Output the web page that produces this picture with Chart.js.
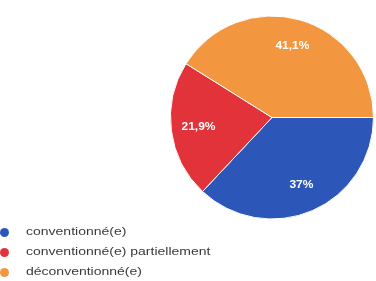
<!DOCTYPE html>
<html>
<head>
<meta charset="utf-8">
<script src="https://cdn.jsdelivr.net/npm/chart.js@4"></script>
<style>
  html, body { margin: 0; padding: 0; background: #fff; }
  #wrap { position: relative; width: 376px; height: 281px; }
  #legend { position: absolute; left: 0; top: 223px; font-family: "Liberation Sans", Arial, sans-serif;
    font-size: 10px; color: #3a3a3a; }
  #legend div { position: relative; height: 20px; line-height: 18px; white-space: nowrap; }
  #legend .dot { position: absolute; left: 0; top: 5px; width: 9px; height: 9px; border-radius: 50%; }
  #legend .txt { position: absolute; left: 26px; top: 0; transform: scaleX(1.4); transform-origin: 0 0; }
</style>
</head>
<body>
<div id="wrap">
  <canvas id="c" width="376" height="281"></canvas>
  <div id="legend"></div>
</div>
<script>
"use strict";

// Data

var labels = ["conventionné(e)", "conventionné(e) partiellement", "déconventionné(e)"],
	values = [37, 21.9, 41.1],
	valueTexts = ["37%", "21,9%", "41,1%"],
	colors = ["#2c56b8", "#e2323a", "#f2973f"];

// percentages written in white inside each slice (a bit stretched, like the source)
var sliceLabels = {
	id: "sliceLabels",
	afterDatasetsDraw: function (chart) {
		var ctx = chart.ctx, arcs = chart.getDatasetMeta(0).data;

		arcs.forEach(function (arc, i) {
			var mid = (arc.startAngle + arc.endAngle) / 2,
				r = arc.outerRadius * 0.73;

			ctx.save();
			ctx.translate(arc.x + Math.cos(mid) * r, arc.y + Math.sin(mid) * r);
			ctx.scale(1.2, 1);
			ctx.fillStyle = "#fff";
			ctx.font = "bold 10px 'Liberation Sans', Arial, sans-serif";
			ctx.textAlign = "center";
			ctx.textBaseline = "middle";
			ctx.fillText(valueTexts[i], 0, 0);
			ctx.restore();
		});
	}
};

new Chart(document.getElementById("c"), {
	type: "pie",
	data: {
		labels: labels,
		datasets: [{
			data: values,
			backgroundColor: colors,
			borderColor: "#fff",
			borderWidth: 1
		}]
	},
	options: {
		responsive: false,
		animation: false,
		rotation: 90,
		layout: { padding: { left: 170, right: 2, top: 15, bottom: 61 } },
		plugins: {
			legend: { display: false },
			tooltip: { enabled: false }
		}
	},
	plugins: [sliceLabels]
});

// legend
var legend = document.getElementById("legend");
labels.forEach(function (label, i) {
	var row = document.createElement("div"),
		dot = document.createElement("span"),
		txt = document.createElement("span");

	dot.className = "dot";
	dot.style.background = colors[i];
	txt.className = "txt";
	txt.textContent = label;
	row.appendChild(dot);
	row.appendChild(txt);
	legend.appendChild(row);
});
</script>
</body>
</html>
